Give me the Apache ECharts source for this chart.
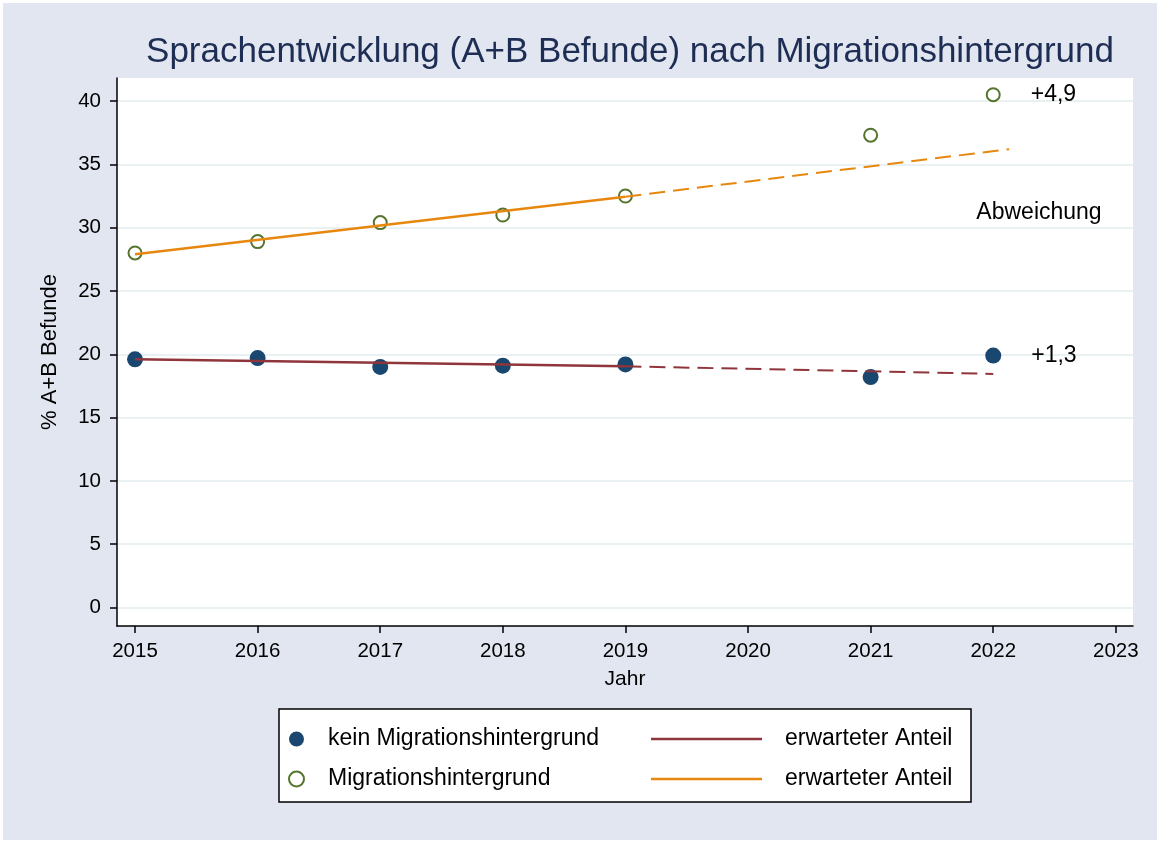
<!DOCTYPE html>
<html>
<head>
<meta charset="utf-8">
<script src="https://cdn.jsdelivr.net/npm/echarts@6/dist/echarts.min.js"></script>
<style>
  html, body { margin: 0; padding: 0; background: #fff; }
  #chart { width: 1160px; height: 843px; }
</style>
</head>
<body>
<div id="chart"></div>
<script>
'use strict';
// Daten
var years = [2015, 2016, 2017, 2018, 2019, 2021, 2022];
var keinMig = [19.6, 19.7, 19.0, 19.1, 19.2, 18.2, 19.9];
var mitMig = [28.0, 28.9, 30.4, 31.0, 32.5, 37.3, 40.5];

// erwarteter Anteil (lineare Fortschreibung)
var trendYears = [2015, 2019];
var keinTrend = [19.6, 19.05];
var migTrend = [27.9, 32.45];
var keinProjYears = [2019, 2022];
var keinProj = [19.05, 18.45];
var migProjYears = [2019, 2022.13];
var migProj = [32.45, 36.2];

var abweichung = ['+1,3', '+4,9'];
var xTicks = [2015, 2016, 2017, 2018, 2019, 2020, 2021, 2022, 2023];
var yTicks = [0, 5, 10, 15, 20, 25, 30, 35, 40];

var FONT = "'Liberation Sans', Arial, sans-serif";
var NAVY = '#1a476f', GREEN = '#55752f', MAROON = '#90353b', ORANGE = '#e8870e';

function pairs(xs, ys, lastLabel){
	var out = [];
	for(var i=0;i<xs.length;i++){
		out.push([xs[i], ys[i]]);
	}
	if(lastLabel){
		out[out.length-1] = {
			value: out[out.length-1],
			label: {
				show: true, position: 'right', distance: 30,
				formatter: lastLabel, color: '#000', fontSize: 23, fontFamily: FONT
			}
		};
	}
	return out;
}

function trendLine(name, xs, ys, color, dashed){
	return {
		name: name,
		type: 'line',
		data: pairs(xs, ys),
		symbol: 'none',
		z: 5,
		silent: true,
		itemStyle: { color: color },
		lineStyle: {
			color: color,
			width: dashed ? 2 : 2.5,
			type: dashed ? [16, 8] : 'solid'
		}
	};
}

var option = {
	backgroundColor: '#fff',
	animation: false,
	title: {
		text: 'Sprachentwicklung (A+B Befunde) nach Migrationshintergrund',
		left: 625,
		top: 30,
		textAlign: 'center',
		textStyle: { color: '#1e2d53', fontSize: 35, fontWeight: 'normal', fontFamily: FONT }
	},
	graphic: [
		{ type: 'rect', z: -10, shape: { x: 3, y: 3, width: 1154, height: 837 }, style: { fill: '#e1e6f1' } },
		{ type: 'rect', z: 1, shape: { x: 279, y: 709, width: 692, height: 93 },
		  style: { fill: '#fff', stroke: '#000', lineWidth: 1.5 } },
		{ type: 'text', z: 10, x: 1039, y: 213,
		  style: { text: 'Abweichung', align: 'center', verticalAlign: 'middle', fill: '#000', fontSize: 23, fontFamily: FONT } }
	],
	grid: {
		left: 117, right: 27, top: 78, bottom: 217,
		show: true, backgroundColor: '#fff', borderWidth: 0
	},
	xAxis: {
		type: 'value',
		min: 2014.853,
		max: 2023.14,
		name: 'Jahr',
		nameLocation: 'middle',
		nameGap: 43,
		nameTextStyle: { color: '#000', fontSize: 21, fontFamily: FONT },
		axisLine: { show: true, onZero: false, lineStyle: { color: '#000', width: 1.5 } },
		axisTick: { show: true, length: 7, customValues: xTicks, lineStyle: { color: '#000', width: 1.5 } },
		axisLabel: { customValues: xTicks, margin: 15, color: '#000', fontSize: 20.5, fontFamily: FONT,
			formatter: function(v){ return String(v); } },
		splitLine: { show: false }
	},
	yAxis: {
		type: 'value',
		min: -1.46,
		max: 41.82,
		name: '% A+B Befunde',
		nameLocation: 'middle',
		nameGap: 56,
		nameRotate: 90,
		nameTextStyle: { color: '#000', fontSize: 22, fontFamily: FONT },
		axisLine: { show: true, onZero: false, lineStyle: { color: '#000', width: 1.5 } },
		axisTick: { show: true, length: 7, customValues: yTicks, lineStyle: { color: '#000', width: 1.5 } },
		axisLabel: { customValues: yTicks, margin: 16, color: '#000', fontSize: 20.5, fontFamily: FONT },
		splitLine: { show: true, lineStyle: { color: '#eaf1f3', width: 2 } }
	},
	legend: [
		{
			orient: 'vertical',
			left: 288, top: 727,
			padding: 0,
			itemWidth: 15, itemHeight: 15,
			itemGap: 16,
			data: ['kein', 'mig'],
			formatter: function(n){ return n === 'kein' ? 'kein Migrationshintergrund' : 'Migrationshintergrund'; },
			textStyle: { color: '#000', fontSize: 23, lineHeight: 24, fontFamily: FONT, padding: [0, 0, 0, 19] },
			selectedMode: false
		},
		{
			orient: 'vertical',
			left: 651, top: 727,
			padding: 0,
			icon: 'rect',
			itemWidth: 111, itemHeight: 2.5,
			itemGap: 16,
			data: ['trendKein', 'trendMig'],
			formatter: function(){ return 'erwarteter Anteil'; },
			textStyle: { color: '#000', fontSize: 23, lineHeight: 24, fontFamily: FONT, padding: [0, 0, 0, 18] },
			selectedMode: false
		}
	],
	series: [
		{
			name: 'kein',
			type: 'scatter',
			data: pairs(years, keinMig, abweichung[0]),
			symbol: 'circle',
			symbolSize: 16,
			z: 3,
			itemStyle: { color: NAVY, opacity: 1 }
		},
		{
			name: 'mig',
			type: 'scatter',
			data: pairs(years, mitMig, abweichung[1]),
			symbol: 'circle',
			symbolSize: 13,
			z: 3,
			itemStyle: { color: '#fff', borderColor: GREEN, borderWidth: 2, opacity: 1 }
		},
		trendLine('trendKein', trendYears, keinTrend, MAROON, false),
		trendLine('trendKeinProj', keinProjYears, keinProj, MAROON, true),
		trendLine('trendMig', trendYears, migTrend, ORANGE, false),
		trendLine('trendMigProj', migProjYears, migProj, ORANGE, true)
	]
};

var chart = echarts.init(document.getElementById('chart'));
chart.setOption(option);
</script>
</body>
</html>
